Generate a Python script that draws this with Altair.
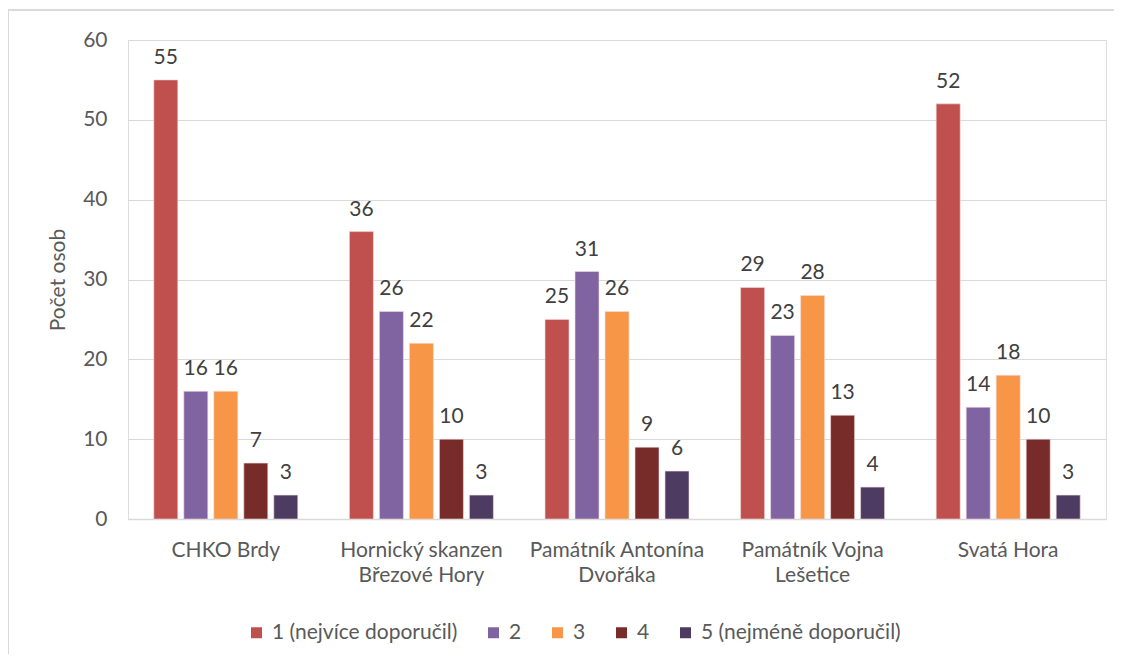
import altair as alt
import pandas as pd

categories = ["CHKO Brdy", "Hornický skanzen\nBřezové Hory", "Památník Antonína\nDvořáka", "Památník Vojna\nLešetice", "Svatá Hora"]
series = ["1 (nejvíce doporučil)", "2", "3", "4", "5 (nejméně doporučil)"]
colors = ["#C0504D", "#8064A2", "#F79646", "#772C2A", "#4D3B62"]
values = {
    "1 (nejvíce doporučil)": [55, 36, 25, 29, 52],
    "2": [16, 26, 31, 23, 14],
    "3": [16, 22, 26, 28, 18],
    "4": [7, 10, 9, 13, 10],
    "5 (nejméně doporučil)": [3, 3, 6, 4, 3],
}

rows = []
for s in series:
    for c, v in zip(categories, values[s]):
        rows.append({"misto": c, "hodnoceni": s, "pocet": v})
df = pd.DataFrame(rows)

FONT = "Lato"
TXT = "#595959"
FS = 21

x = alt.X("misto:N", sort=categories, title=None,
          scale=alt.Scale(paddingInner=0, paddingOuter=0),
          axis=alt.Axis(labelExpr=r"split(datum.label, '\n')", labelAngle=0,
                        labelFontSize=FS, labelColor=TXT, labelFont=FONT,
                        labelPadding=20, labelLineHeight=25, ticks=False, labelLimit=300,
                        domainColor="#d9d9d9", domainWidth=1.5))
y = alt.Y("pocet:Q", title="Počet osob",
          scale=alt.Scale(domain=[0, 60], nice=False),
          axis=alt.Axis(values=[0, 10, 20, 30, 40, 50, 60], grid=True, gridColor="#d9d9d9",
                        gridWidth=1.2, domain=False, ticks=False, labelPadding=21,
                        labelFontSize=FS, labelColor=TXT, labelFont=FONT,
                        titleFontSize=FS, titleFont=FONT, titleColor=TXT,
                        titleFontWeight="normal", titlePadding=14))
xoff = alt.XOffset("hodnoceni:N", sort=series,
                   scale=alt.Scale(paddingInner=0.2, paddingOuter=0.86))

bars = alt.Chart(df).mark_bar(stroke="#f2dcdc", strokeWidth=0.6).encode(
    x=x, y=y, xOffset=xoff,
    color=alt.Color("hodnoceni:N", sort=series,
                    scale=alt.Scale(domain=series, range=colors),
                    legend=alt.Legend(title=None, orient="none", direction="horizontal",
                                      legendX=118, legendY=582, symbolType="square",
                                      symbolSize=121, symbolStrokeWidth=0, labelLimit=400,
                                      labelFontSize=FS, labelFont=FONT, labelColor=TXT,
                                      columnPadding=25, labelOffset=5)),
)

labels = alt.Chart(df).mark_text(baseline="bottom", dy=-12, fontSize=FS, font=FONT, color="#404040").encode(
    x=alt.X("misto:N", sort=categories), y="pocet:Q", xOffset=xoff, text="pocet:Q"
)

border = alt.Chart(df).mark_rule(color="#d9d9d9", strokeWidth=1.2).encode(
    x=alt.value(-120), x2=alt.value(1000), y=alt.value(-30)
)
border2 = alt.Chart(df).mark_rule(color="#d9d9d9", strokeWidth=1.2).encode(
    x=alt.value(-120), y=alt.value(-30), y2=alt.value(630)
)

chart = alt.layer(border, border2, bars, labels).properties(
    width=978, height=479,
    autosize=alt.AutoSizeParams(type="none"),
    padding={"left": 120, "top": 32, "right": 8, "bottom": 135},
).configure_view(stroke=None).configure(background="white")

chart.save("out.html", embed_options={"renderer": "svg", "actions": False})
